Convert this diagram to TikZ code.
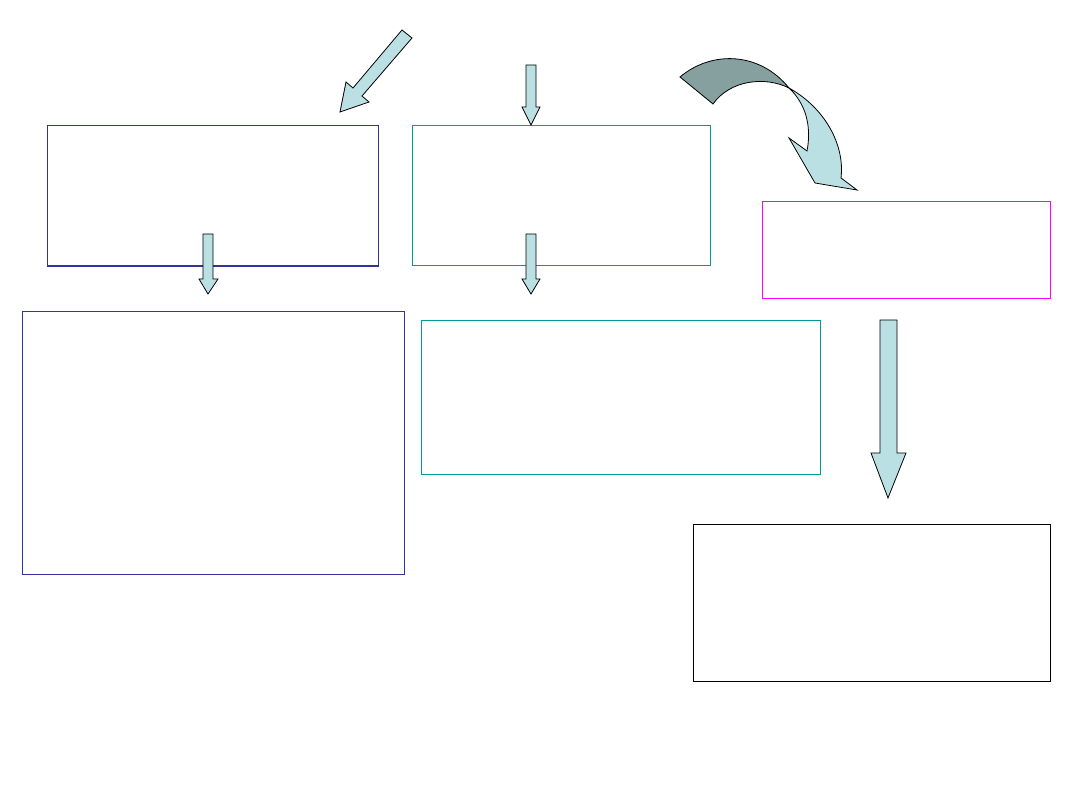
\documentclass[tikz,border=0pt]{standalone}
\usetikzlibrary{positioning}

\definecolor{navyline}{HTML}{333399}
\definecolor{tealline}{HTML}{009999}
\definecolor{pinkline}{HTML}{FF00FF}
\definecolor{arrowfill}{HTML}{BBE0E3}
\definecolor{arrowdark}{HTML}{869F9F}

\tikzset{
  box/.style={draw, line width=1pt, inner sep=0pt, anchor=north west},
  blockarrow/.style={fill=arrowfill, draw=black, line width=0.8pt, line join=miter}
}

\begin{document}
\begin{tikzpicture}[x=1pt, y=-1pt]
  \useasboundingbox (0,0) rectangle (1080,810);

  % top row of boxes
  \node[box, draw=navyline, minimum width=331pt, minimum height=140pt] (left) at (47,125) {};
  \draw[navyline, line width=2pt] (left.south west) -- (left.south east);
  \node[box, draw=tealline, minimum width=298pt, minimum height=140pt] (middle) at (412,125) {};
  \node[box, draw=pinkline, minimum width=288pt, minimum height=97pt] (right) at (762,201) {};

  % lower boxes
  \node[box, draw=navyline, minimum width=382pt, minimum height=263pt] (leftlow) at (22,311) {};
  \node[box, draw=tealline, minimum width=399pt, minimum height=154pt] (midlow) at (421,320) {};
  \node[box, draw=black, line width=1.3pt, minimum width=357pt, minimum height=157pt] (rightlow) at (693,524) {};

  % diagonal arrow into the left box
  \filldraw[blockarrow]
    (402,30) -- (412,38) -- (362,96) -- (369,102) -- (340,112)
    -- (346,82) -- (353,88) -- cycle;

  % straight down arrows
  \filldraw[blockarrow]
    (526,65) -- (536,65) -- (536,107) -- (540,107) -- (531,125)
    -- (522,107) -- (526,107) -- cycle;
  \filldraw[blockarrow]
    (203,234) -- (213,234) -- (213,279) -- (218,279) -- (208,294)
    -- (199,279) -- (203,279) -- cycle;
  \filldraw[blockarrow]
    (526,234) -- (536,234) -- (536,279) -- (540,279) -- (531,294)
    -- (522,279) -- (526,279) -- cycle;
  \filldraw[blockarrow]
    (880,320) -- (897,320) -- (897,453) -- (906,453) -- (888,498)
    -- (871,453) -- (880,453) -- cycle;

  % curved arrow, back face then front face
  \filldraw[fill=arrowdark, draw=black, line width=0.8pt]
    (680,77) .. controls (712,50) and (760,52) .. (789,88)
    .. controls (765,76) and (730,80) .. (713,104) -- cycle;
  \filldraw[blockarrow]
    (789,88) .. controls (825,108) and (845,145) .. (841,178)
    -- (857,190) -- (815,183) -- (789,138) -- (807,151)
    .. controls (812,125) and (805,103) .. (789,88) -- cycle;

\end{tikzpicture}
\end{document}
